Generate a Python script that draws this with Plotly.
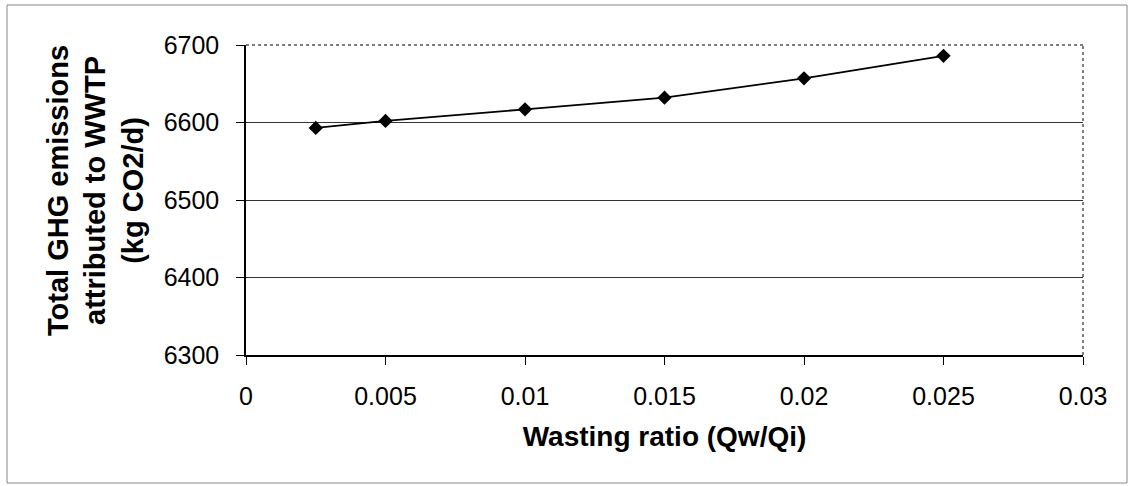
import plotly.graph_objects as go

# Wasting ratio vs total GHG emissions
wasting_ratio = [0.0025, 0.005, 0.01, 0.015, 0.02, 0.025]
ghg_emissions = [6593, 6602, 6617, 6632, 6657, 6686]

x_ticks = [0, 0.005, 0.01, 0.015, 0.02, 0.025, 0.03]
x_tick_text = ["0", "0.005", "0.01", "0.015", "0.02", "0.025", "0.03"]
y_ticks = [6300, 6400, 6500, 6600, 6700]

FONT = "Liberation Sans, Arial, sans-serif"

fig = go.Figure()
fig.add_trace(go.Scatter(
    x=wasting_ratio, y=ghg_emissions,
    mode="lines+markers",
    line=dict(color="black", width=1.8),
    marker=dict(symbol="diamond", size=11, color="black"),
    showlegend=False,
))

fig.update_layout(
    width=1130, height=486,
    margin=dict(l=246, r=47, t=45, b=131),
    paper_bgcolor="white", plot_bgcolor="white",
    font=dict(family=FONT, color="black", size=25),
    xaxis=dict(
        range=[0, 0.03], tickvals=x_ticks, ticktext=x_tick_text,
        showgrid=False, zeroline=False,
        showline=True, linecolor="black", linewidth=1.5,
        ticks="outside", ticklen=8, tickcolor="black", tickwidth=1,
        ticklabelstandoff=10,
        tickfont=dict(size=25, family=FONT),
        title=dict(text="<b>Wasting ratio (Qw/Qi)</b>", font=dict(size=28, family=FONT), standoff=18),
    ),
    yaxis=dict(
        range=[6300, 6700], tickvals=y_ticks,
        showgrid=True, gridcolor="#333333", gridwidth=1,
        zeroline=False,
        showline=True, linecolor="black", linewidth=1.5,
        ticks="outside", ticklen=8, tickcolor="black", tickwidth=1,
        ticklabelstandoff=12,
        tickfont=dict(size=25, family=FONT),
    ),
)

# Dotted top and right frame of the plot area
fig.add_shape(type="line", xref="paper", yref="paper", x0=0, x1=1, y0=1, y1=1,
              line=dict(color="#555555", width=1.5, dash="dot"))
fig.add_shape(type="line", xref="paper", yref="paper", x0=1, x1=1, y0=0, y1=1,
              line=dict(color="#555555", width=1.5, dash="dot"))

# Outer chart border
fig.add_shape(type="rect", xref="paper", yref="paper",
              x0=-239/837, x1=1 + 44/837, y0=-128/310, y1=1 + 40/310,
              line=dict(color="#888888", width=1))

# Three-line y-axis title
fig.add_annotation(
    text="<b>Total GHG emissions<br>attributed to WWTP<br>(kg CO2/d)</b>",
    xref="paper", yref="paper", x=-0.180, y=0.53,
    xanchor="center", yanchor="middle", textangle=-90, showarrow=False,
    font=dict(size=29, family=FONT, color="black"), align="center",
)

fig.write_html("out.html")
